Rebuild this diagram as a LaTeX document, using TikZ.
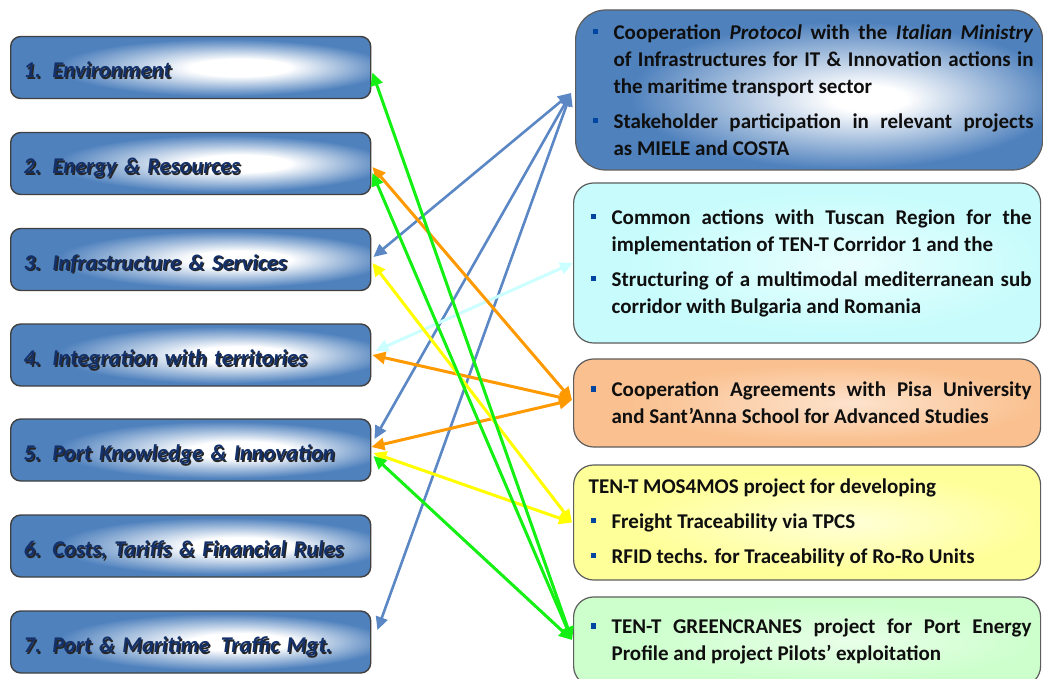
\documentclass[tikz,border=0pt]{standalone}
\usepackage{fontspec}
\setmainfont{Carlito}
\usetikzlibrary{arrows.meta}

% palette
\definecolor{boxblue}{RGB}{79,129,189}
\definecolor{navytext}{RGB}{20,48,105}
\definecolor{framegray}{RGB}{64,64,64}
\definecolor{bodytext}{RGB}{15,15,15}
\definecolor{bulletblue}{RGB}{0,70,160}
\definecolor{cyanbox}{RGB}{200,252,252}
\definecolor{orangebox}{RGB}{250,192,143}
\definecolor{yellowbox}{RGB}{255,255,153}
\definecolor{greenbox}{RGB}{204,255,204}
\colorlet{cyanlight}{white!60!cyanbox}
\colorlet{orangelight}{white!55!orangebox}
\colorlet{yellowlight}{white!60!yellowbox}
\colorlet{greenlight}{white!55!greenbox}
\definecolor{linkblue}{RGB}{91,135,197}
\definecolor{linkorange}{RGB}{255,153,0}
\definecolor{linkyellow}{RGB}{255,255,0}
\definecolor{linkgreen}{RGB}{20,240,20}
\definecolor{linkcyan}{RGB}{204,255,255}

% box fills: light core, coloured rim
\pgfdeclareradialshading{themeshade}{\pgfpoint{8bp}{0bp}}{color(0bp)=(white); color(7bp)=(white); color(23bp)=(boxblue); color(50bp)=(boxblue)}
\pgfdeclareradialshading{ministryshade}{\pgfpoint{7bp}{-3bp}}{color(0bp)=(white); color(4bp)=(white); color(23bp)=(boxblue); color(50bp)=(boxblue)}
\pgfdeclareradialshading{cyanshade}{\pgfpoint{5bp}{0bp}}{color(0bp)=(cyanlight); color(22bp)=(cyanbox); color(50bp)=(cyanbox)}
\pgfdeclareradialshading{orangeshade}{\pgfpoint{5bp}{0bp}}{color(0bp)=(orangelight); color(22bp)=(orangebox); color(50bp)=(orangebox)}
\pgfdeclareradialshading{yellowshade}{\pgfpoint{5bp}{0bp}}{color(0bp)=(yellowlight); color(22bp)=(yellowbox); color(50bp)=(yellowbox)}
\pgfdeclareradialshading{greenshade}{\pgfpoint{5bp}{0bp}}{color(0bp)=(greenlight); color(22bp)=(greenbox); color(50bp)=(greenbox)}

% theme label with a dark drop shadow
\newcommand\shtext[1]{\mbox{\makebox[0pt][l]{\kern1.5pt\raisebox{-1.5pt}{\textcolor{black!85}{#1}}}#1}}
% paragraph settings for the action boxes
\newcommand\actionpar{\setlength{\parskip}{8pt}\hyphenpenalty=10000 \exhyphenpenalty=10000 \emergencystretch=20pt\relax}
% square-bulleted paragraph
\newcommand\bitem[1]{\noindent\hangindent=29pt\hangafter=1\relax
  \makebox[29pt][l]{\hspace*{8pt}\textcolor{bulletblue}{\rule[5pt]{5.5pt}{5.5pt}}}#1\par}

\tikzset{
  theme/.style={draw=framegray, line width=1.4pt, rounded corners=10pt,
    shade, shading=themeshade, anchor=west, text width=334pt, align=left,
    inner xsep=13pt, inner ysep=0pt, minimum height=62pt, text=navytext,
    text height=22pt, text depth=1pt,
    font=\fontsize{22.5}{27}\selectfont\bfseries\itshape},
  action/.style={draw=framegray!85, line width=1.2pt, rounded corners=20pt,
    shade, anchor=west, text width=449pt, inner xsep=9pt, inner ysep=0pt,
    align=justify, text=bodytext,
    font=\fontsize{21}{27}\selectfont\bfseries},
  link/.style={line width=3pt, {Triangle[length=13pt,width=12pt]}-{Triangle[length=13pt,width=12pt]}},
  bluelink/.style={link, linkblue, line width=2.6pt}
}

\begin{document}
\begin{tikzpicture}[x=1pt,y=-1pt]
\path[use as bounding box] (0,0) rectangle (1043,679);
\clip (0,0) rectangle (1043,679);
\fill[white] (0,0) rectangle (1043,679);

% themes (left column)
\node[theme] (t1) at (10,67.5)  {\shtext{1. Environment}};
\node[theme] (t2) at (10,163.5) {\shtext{2. Energy \& Resources}};
\node[theme] (t3) at (10,259.5) {\shtext{3. Infrastructure \& Services}};
\node[theme] (t4) at (10,355)   {\shtext{4. Integration with territories}};
\node[theme] (t5) at (10,450)   {\shtext{5. Port Knowledge \& Innovation}};
\node[theme] (t6) at (10,546)   {\shtext{6. Costs, Tariffs \& Financial Rules}};
\node[theme] (t7) at (10,642)   {\shtext{7. Port \& Maritime\, Traffic Mgt.}};

% actions (right column)
\node[action, shading=ministryshade, rounded corners=30pt, minimum height=160pt] (a1) at (575,90) {\actionpar
  \bitem{Cooperation \textit{Protocol} with the \textit{Italian Ministry}\linebreak of Infrastructures for IT \& Innovation actions in\linebreak the maritime transport sector}
  \bitem{Stakeholder participation in relevant projects\linebreak as MIELE and COSTA}};
\node[action, shading=cyanshade, minimum height=160pt] (a2) at (573,263) {\actionpar
  \bitem{Common actions with Tuscan Region for the\linebreak implementation of TEN-T Corridor 1 and the}
  \bitem{Structuring of a multimodal mediterranean sub\linebreak corridor with Bulgaria and Romania}};
\node[action, shading=orangeshade, minimum height=88pt] (a3) at (573,403) {\actionpar
  \bitem{Cooperation Agreements with Pisa University\linebreak and Sant’Anna School for Advanced Studies}};
\node[action, shading=yellowshade, minimum height=115pt] (a4) at (573,522.5) {\actionpar
  \noindent\hspace*{6pt}TEN-T MOS4MOS project for developing\par
  \bitem{Freight Traceability via TPCS}
  \bitem{RFID techs. for Traceability of Ro-Ro Units}};
\node[action, shading=greenshade, minimum height=89pt] (a5) at (573,641.5) {\actionpar
  \bitem{TEN-T GREENCRANES project for Port Energy\linebreak Profile and project Pilots’ exploitation}};

% links between actions and themes
\draw[bluelink] ([shift={(-4pt,-3pt)}]a1.west) -- ([shift={(2pt,2.5pt)}]t3.east);
\draw[bluelink] ([shift={(-4pt,-3pt)}]a1.west) -- ([shift={(3pt,11pt)}]t5.east);
\draw[bluelink] ([shift={(-4pt,-3pt)}]a1.west) -- ([shift={(6pt,12pt)}]t7.east);
\draw[link, linkcyan] (a2.west) -- ([shift={(4pt,4pt)}]t4.east);
\draw[link, linkorange] ([shift={(-1pt,3pt)}]a3.west) -- ([shift={(1pt,-3.5pt)}]t2.east);
\draw[link, linkorange] ([shift={(-1pt,3pt)}]a3.west) -- ([shift={(1pt,0pt)}]t4.east);
\draw[link, linkorange] ([shift={(-1pt,3pt)}]a3.west) -- ([shift={(0pt,3pt)}]t5.east);
\draw[link, linkyellow] ([xshift=-1pt]a4.west) -- ([shift={(1pt,-3.5pt)}]t3.east);
\draw[link, linkyellow] ([xshift=-1pt]a4.west) -- ([shift={(2pt,-3pt)}]t5.east);
\draw[link, linkgreen] ([shift={(-1pt,1.5pt)}]a5.west) -- ([shift={(1pt,-5pt)}]t1.east);
\draw[link, linkgreen] ([shift={(-1pt,1.5pt)}]a5.west) -- ([shift={(1pt,-9.5pt)}]t2.east);
\draw[link, linkgreen] ([shift={(-1pt,1.5pt)}]a5.west) -- ([shift={(2pt,-6pt)}]t5.east);
\end{tikzpicture}
\end{document}
